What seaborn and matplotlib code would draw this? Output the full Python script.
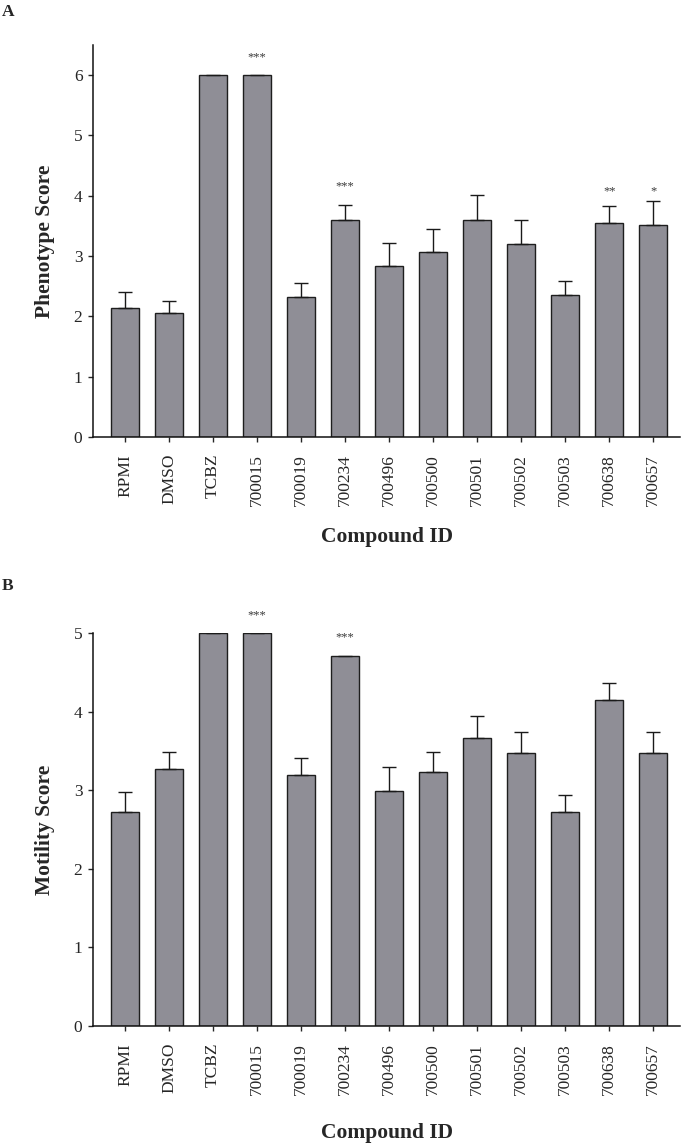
import numpy as np
import seaborn as sns
import matplotlib
matplotlib.use('Agg')
import matplotlib.pyplot as plt

compounds = ['RPMI', 'DMSO', 'TCBZ', '700015', '700019', '700234', '700496',
             '700500', '700501', '700502', '700503', '700638', '700657']

# panel A - phenotype score (mean, sem)
pheno_mean = [2.14, 2.06, 6.00, 6.00, 2.32, 3.60, 2.84, 3.07, 3.60, 3.20, 2.35, 3.55, 3.51]
pheno_sem = [0.26, 0.19, 0.0, 0.0, 0.23, 0.25, 0.38, 0.38, 0.41, 0.40, 0.23, 0.28, 0.40]
pheno_sig = ['700015', '700234', '700638', '700657']
pheno_sig_txt = ['***', '***', '**', '*']
pheno_sig_y = [6.30, 4.15, 4.07, 4.07]

# panel B - motility score (mean, sem)
motil_mean = [2.72, 3.27, 5.00, 5.00, 3.19, 4.71, 2.99, 3.23, 3.67, 3.47, 2.72, 4.15, 3.47]
motil_sem = [0.26, 0.22, 0.0, 0.0, 0.22, 0.0, 0.30, 0.26, 0.27, 0.27, 0.22, 0.22, 0.27]
motil_sig = ['700015', '700234']
motil_sig_txt = ['***', '***']
motil_sig_y = [5.22, 4.95]

sns.set_style('ticks')
plt.rcParams['font.family'] = ['Liberation Serif', 'DejaVu Serif']

BAR = '#8f8e96'


def panel(ax, means, sems, sig, sig_txt, sig_y, ylabel, ymax, yticks):
    sns.barplot(x=compounds, y=means, color=BAR, edgecolor='#1e1e1e',
                linewidth=1.0, width=0.64, saturation=1, ax=ax)
    up = np.array(sems, dtype=float)
    up[up == 0] = np.nan
    ax.errorbar(np.arange(len(compounds)), means,
                yerr=[np.zeros(len(up)), up], fmt='none',
                ecolor='#1a1a1a', elinewidth=1.0, capsize=5, capthick=1.0)
    for c, t, y in zip(sig, sig_txt, sig_y):
        ax.text(compounds.index(c), y, t, ha='center', va='center',
                fontsize=9, color='#3a3a3a', clip_on=False)
    ax.set_xlim(-0.73, 12.61)
    ax.set_ylim(0, ymax)
    ax.set_yticks(yticks)
    sns.despine(ax=ax)
    for s in ['left', 'bottom']:
        ax.spines[s].set_linewidth(1.1)
        ax.spines[s].set_color('#111111')
    ax.tick_params(axis='y', labelsize=12.5, length=3.6, width=1.0, pad=4)
    ax.tick_params(axis='x', labelsize=12.5, length=3.6, width=1.0, pad=8.5,
                   labelrotation=90)
    ax.set_ylabel(ylabel, fontsize=15.5, fontweight='bold')
    ax.set_xlabel('Compound ID', fontsize=15.5, fontweight='bold')
    ax.yaxis.set_label_coords(-0.064, 0.5)


fig = plt.figure(figsize=(6.85, 11.48), dpi=100)
axA = fig.add_axes([0.1358, 0.6193, 0.857, 0.3415])
axB = fig.add_axes([0.1358, 0.1063, 0.857, 0.3423])

panel(axA, pheno_mean, pheno_sem, pheno_sig, pheno_sig_txt, pheno_sig_y,
      'Phenotype Score', 6.5, range(0, 7))
axA.xaxis.set_label_coords(0.5, -0.23)

panel(axB, motil_mean, motil_sem, motil_sig, motil_sig_txt, motil_sig_y,
      'Motility Score', 5, range(0, 6))
axB.xaxis.set_label_coords(0.5, -0.247)

fig.text(0.003, 1 - 12 / 1148, 'A', fontsize=12.5, fontweight='bold', va='center')
fig.text(0.003, 1 - 586 / 1148, 'B', fontsize=12.5, fontweight='bold', va='center')

fig.savefig('out.png', dpi=100)
